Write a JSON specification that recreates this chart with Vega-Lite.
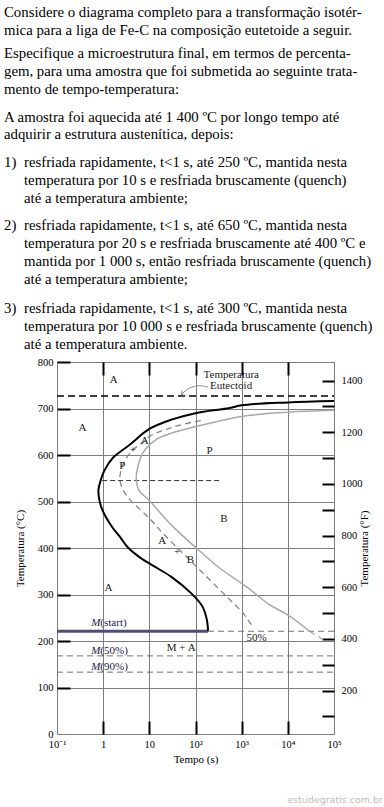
{
  "$schema": "https://vega.github.io/schema/vega-lite/v6.json",
  "width": 277,
  "height": 372,
  "autosize": "none",
  "padding": {"left": 57, "top": 362, "right": 50, "bottom": 73},
  "background": "white",
  "config": {
    "view": {"stroke": "#7d7d7d", "strokeWidth": 1},
    "axis": {
      "labelFont": "Liberation Serif", "titleFont": "Liberation Serif",
      "labelFontSize": 10.5, "titleFontSize": 11, "titleFontWeight": "normal",
      "labelColor": "#000", "titleColor": "#000", "domain": false,
      "tickWidth": 2, "gridColor": "#7d7d7d", "gridWidth": 1, "gridOpacity": 1,
      "labelOverlap": false, "labelFlush": false
    }
  },
  "resolve": {"scale": {"x": "independent", "y": "independent"}},
  "layer": [
    {
      "layer": [
        {
          "data": {"values": [
            {"col": 0, "line": 0, "text": "Considere o diagrama completo para a transformação isotér-"},
            {"col": 0, "line": 1, "text": "mica para a liga de Fe-C na composição eutetoide a seguir."},
            {"col": 0, "line": 2.34, "text": "Especifique a microestrutura final, em termos de percenta-"},
            {"col": 0, "line": 3.33, "text": "gem, para uma amostra que foi submetida ao seguinte trata-"},
            {"col": 0, "line": 4.34, "text": "mento de tempo-temperatura:"},
            {"col": 0, "line": 5.9, "text": "A amostra foi aquecida até 1 400 ºC por longo tempo até"},
            {"col": 0, "line": 6.89, "text": "adquirir a estrutura austenítica, depois:"},
            {"col": 0, "line": 8.43, "text": "1)"},
            {"col": 1, "line": 8.43, "text": "resfriada rapidamente, t<1 s, até 250 ºC, mantida nesta"},
            {"col": 1, "line": 9.43, "text": "temperatura por 10 s e resfriada bruscamente (quench)"},
            {"col": 1, "line": 10.45, "text": "até a temperatura ambiente;"},
            {"col": 0, "line": 11.98, "text": "2)"},
            {"col": 1, "line": 11.98, "text": "resfriada rapidamente, t<1 s, até 650 ºC, mantida nesta"},
            {"col": 1, "line": 13.01, "text": "temperatura por 20 s e resfriada bruscamente até 400 ºC e"},
            {"col": 1, "line": 14.0, "text": "mantida por 1 000 s, então resfriada bruscamente (quench)"},
            {"col": 1, "line": 15.01, "text": "até a temperatura ambiente;"},
            {"col": 0, "line": 16.65, "text": "3)"},
            {"col": 1, "line": 16.65, "text": "resfriada rapidamente, t<1 s, até 300 ºC, mantida nesta"},
            {"col": 1, "line": 17.66, "text": "temperatura por 10 000 s e resfriada bruscamente (quench)"},
            {"col": 1, "line": 18.67, "text": "até a temperatura ambiente."}
          ]},
          "mark": {"type": "text", "align": "left", "baseline": "alphabetic", "font": "Liberation Serif", "fontSize": 14.8, "color": "#000"},
          "encoding": {
            "x": {"field": "col", "type": "quantitative", "scale": {"domain": [0, 1, 2], "range": [-53, -33, 326], "nice": false, "zero": false}, "axis": null},
            "y": {"field": "line", "type": "quantitative", "scale": {"domain": [0, 45], "range": [-345.3, 455.7], "nice": false, "zero": false}, "axis": null},
            "text": {"field": "text"}
          }
        },
        {
          "data": {"values": [{"col": 2, "line": 44.17, "text": "estudegratis.com.br"}]},
          "mark": {"type": "text", "align": "right", "baseline": "alphabetic", "font": "DejaVu Sans", "fontSize": 9.5, "color": "#bbbbbb"},
          "encoding": {
            "x": {"field": "col", "type": "quantitative", "scale": {"domain": [0, 1, 2], "range": [-53, -33, 326], "nice": false, "zero": false}, "axis": null},
            "y": {"field": "line", "type": "quantitative", "scale": {"domain": [0, 45], "range": [-345.3, 455.7], "nice": false, "zero": false}, "axis": null},
            "text": {"field": "text"}
          }
        }
      ]
    },
    {
      "layer": [
        {
          "data": {"values": [{"name": "eutectoid", "t": 0.1, "t2": 100000, "T": 727}]},
          "mark": {"type": "rule", "color": "#000", "strokeWidth": 1.5, "strokeDash": [7, 4]},
          "encoding": {
            "x": {"field": "t", "type": "quantitative",
              "scale": {"type": "log", "domain": [0.1, 100000], "nice": false},
              "axis": {"orient": "bottom", "values": [0.1, 1, 10, 100, 1000, 10000, 100000], "grid": true,
                "labelExpr": "datum.value < 0.5 ? '10⁻¹' : datum.value < 5 ? '1' : datum.value < 50 ? '10' : datum.value < 500 ? '10²' : datum.value < 5000 ? '10³' : datum.value < 50000 ? '10⁴' : '10⁵'",
                "tickSize": -13, "labelPadding": 18, "title": "Tempo (s)", "titlePadding": 4,
                "tickColor": {"condition": {"test": "datum.value < 0.5 || datum.value > 50000", "value": "transparent"}, "value": "#000"}}},
            "x2": {"field": "t2"},
            "y": {"field": "T", "type": "quantitative",
              "scale": {"domain": [0, 800], "nice": false, "zero": false},
              "axis": {"orient": "left", "values": [0, 100, 200, 300, 400, 500, 600, 700, 800], "format": "d", "grid": true,
                "tickSize": -13, "labelPadding": 17, "title": "Temperatura (°C)", "titlePadding": 12,
                "tickColor": {"condition": {"test": "datum.value == 0", "value": "transparent"}, "value": "#000"}}}
          }
        },
        {
          "data": {"values": [
            {"name": "M(50%)", "t": 0.1, "t2": 100000, "T": 168},
            {"name": "M(90%)", "t": 0.1, "t2": 100000, "T": 133},
            {"name": "M(start) extension", "t": 187, "t2": 100000, "T": 221}
          ]},
          "mark": {"type": "rule", "color": "#707070", "strokeWidth": 1, "strokeDash": [6, 4]},
          "encoding": {"x": {"field": "t", "type": "quantitative"}, "x2": {"field": "t2"}, "y": {"field": "T", "type": "quantitative"}}
        },
        {
          "data": {"values": [{"name": "nose", "t": 0.95, "t2": 330, "T": 545}]},
          "mark": {"type": "rule", "color": "#333", "strokeWidth": 1, "strokeDash": [5, 3]},
          "encoding": {"x": {"field": "t", "type": "quantitative"}, "x2": {"field": "t2"}, "y": {"field": "T", "type": "quantitative"}}
        },
        {
          "data": {"values": [{"name": "M(start)", "t": 0.1, "t2": 187, "T": 221}]},
          "mark": {"type": "rule", "color": "#4d4d78", "strokeWidth": 3},
          "encoding": {"x": {"field": "t", "type": "quantitative"}, "x2": {"field": "t2"}, "y": {"field": "T", "type": "quantitative"}}
        },
        {
          "data": {"values": [
            {"o": 1, "t": 100000, "T": 696}, {"o": 2, "t": 10000, "T": 692}, {"o": 3, "t": 1000, "T": 683},
            {"o": 4, "t": 100, "T": 661}, {"o": 5, "t": 30, "T": 647}, {"o": 6, "t": 14, "T": 633},
            {"o": 7, "t": 7.2, "T": 604}, {"o": 8, "t": 5.66, "T": 575}, {"o": 9, "t": 5.2, "T": 550},
            {"o": 10, "t": 5.9, "T": 525}, {"o": 11, "t": 10, "T": 502}, {"o": 12, "t": 32.6, "T": 446},
            {"o": 13, "t": 104, "T": 400}, {"o": 14, "t": 331, "T": 357}, {"o": 15, "t": 1256, "T": 317},
            {"o": 16, "t": 4000, "T": 278}, {"o": 17, "t": 10000, "T": 256}, {"o": 18, "t": 29500, "T": 221}
          ]},
          "mark": {"type": "line", "color": "#a8a8a8", "strokeWidth": 1.5, "interpolate": "catmull-rom"},
          "encoding": {"x": {"field": "t", "type": "quantitative"}, "y": {"field": "T", "type": "quantitative"}, "order": {"field": "o"}}
        },
        {
          "data": {"values": [{"o": 1, "t": 29500, "T": 221}, {"o": 2, "t": 65000, "T": 200}]},
          "mark": {"type": "line", "color": "#a8a8a8", "strokeWidth": 1.3, "strokeDash": [6, 4]},
          "encoding": {"x": {"field": "t", "type": "quantitative"}, "y": {"field": "T", "type": "quantitative"}, "order": {"field": "o"}}
        },
        {
          "data": {"values": [
            {"o": 1, "t": 130, "T": 674}, {"o": 2, "t": 100, "T": 672}, {"o": 3, "t": 30, "T": 659},
            {"o": 4, "t": 10, "T": 640}, {"o": 5, "t": 7.9, "T": 630}, {"o": 6, "t": 4.4, "T": 611},
            {"o": 7, "t": 3.2, "T": 594}, {"o": 8, "t": 2.6, "T": 577}, {"o": 9, "t": 2.35, "T": 560},
            {"o": 10, "t": 2.3, "T": 547}, {"o": 11, "t": 2.7, "T": 525}, {"o": 12, "t": 3.8, "T": 504},
            {"o": 13, "t": 10, "T": 464}, {"o": 14, "t": 19.5, "T": 432}, {"o": 15, "t": 53, "T": 389},
            {"o": 16, "t": 145, "T": 346}, {"o": 17, "t": 467, "T": 296}, {"o": 18, "t": 1070, "T": 260},
            {"o": 19, "t": 1630, "T": 235}, {"o": 20, "t": 1900, "T": 228}
          ]},
          "mark": {"type": "line", "color": "#858585", "strokeWidth": 1.3, "strokeDash": [6, 4], "interpolate": "catmull-rom"},
          "encoding": {"x": {"field": "t", "type": "quantitative"}, "y": {"field": "T", "type": "quantitative"}, "order": {"field": "o"}}
        },
        {
          "data": {"values": [
            {"o": 1, "t": 100000, "T": 716}, {"o": 2, "t": 10000, "T": 713}, {"o": 3, "t": 1000, "T": 707},
            {"o": 4, "t": 550, "T": 701}, {"o": 5, "t": 100, "T": 690}, {"o": 6, "t": 30, "T": 676},
            {"o": 7, "t": 10, "T": 656}, {"o": 8, "t": 3.75, "T": 622}, {"o": 9, "t": 1.63, "T": 594},
            {"o": 10, "t": 1.08, "T": 568}, {"o": 11, "t": 0.88, "T": 545}, {"o": 12, "t": 0.79, "T": 525},
            {"o": 13, "t": 0.82, "T": 505}, {"o": 14, "t": 0.91, "T": 488}, {"o": 15, "t": 1.15, "T": 466},
            {"o": 16, "t": 1.62, "T": 443}, {"o": 17, "t": 2.27, "T": 425}, {"o": 18, "t": 3.44, "T": 401},
            {"o": 19, "t": 6.0, "T": 381}, {"o": 20, "t": 12, "T": 362}, {"o": 21, "t": 30, "T": 338},
            {"o": 22, "t": 80, "T": 303}, {"o": 23, "t": 140, "T": 275}, {"o": 24, "t": 175, "T": 247},
            {"o": 25, "t": 187, "T": 222}
          ]},
          "mark": {"type": "line", "color": "#000", "strokeWidth": 2, "interpolate": "catmull-rom"},
          "encoding": {"x": {"field": "t", "type": "quantitative"}, "y": {"field": "T", "type": "quantitative"}, "order": {"field": "o"}}
        },
        {
          "data": {"values": [
            {"seg": "arc", "o": 1, "t": 185, "T": 746}, {"seg": "arc", "o": 2, "t": 123, "T": 749},
            {"seg": "arc", "o": 3, "t": 74.5, "T": 744}, {"seg": "arc", "o": 4, "t": 53, "T": 733},
            {"seg": "arc", "o": 5, "t": 50, "T": 730},
            {"seg": "h1", "o": 1, "t": 50.8, "T": 739}, {"seg": "h1", "o": 2, "t": 50, "T": 730},
            {"seg": "h2", "o": 1, "t": 61, "T": 728}, {"seg": "h2", "o": 2, "t": 50, "T": 730}
          ]},
          "mark": {"type": "line", "color": "#8a8a8a", "strokeWidth": 1, "interpolate": "catmull-rom"},
          "encoding": {"x": {"field": "t", "type": "quantitative"}, "y": {"field": "T", "type": "quantitative"}, "detail": {"field": "seg"}, "order": {"field": "o"}}
        },
        {
          "data": {"values": [
            {"t": 1.7, "T": 762, "label": "A"}, {"t": 0.355, "T": 657, "label": "A"},
            {"t": 202, "T": 609, "label": "P"}, {"t": 412, "T": 463, "label": "B"},
            {"t": 1.3, "T": 314, "label": "A"}, {"t": 49, "T": 186, "label": "M + A"},
            {"t": 7.9, "T": 630, "label": "A"}, {"t": 4.4, "T": 611, "label": "+"}, {"t": 2.6, "T": 577, "label": "P"},
            {"t": 19, "T": 414, "label": "A"}, {"t": 40, "T": 391, "label": "+"}, {"t": 78, "T": 375, "label": "B"},
            {"t": 2100, "T": 207, "label": "50%"},
            {"t": 596, "T": 773, "label": "Temperatura"}, {"t": 590, "T": 748, "label": "Eutectoid"}
          ]},
          "mark": {"type": "text", "font": "Liberation Serif", "fontSize": 11, "color": "#1a1a1a", "align": "center", "baseline": "middle"},
          "encoding": {"x": {"field": "t", "type": "quantitative"}, "y": {"field": "T", "type": "quantitative"}, "text": {"field": "label"}}
        },
        {
          "data": {"values": [
            {"t": 0.87, "T": 239, "label": "M"}, {"t": 0.87, "T": 179, "label": "M"}, {"t": 0.87, "T": 144, "label": "M"}
          ]},
          "mark": {"type": "text", "font": "Liberation Serif", "fontSize": 11, "fontStyle": "italic", "color": "#22224a", "align": "right", "baseline": "middle"},
          "encoding": {"x": {"field": "t", "type": "quantitative"}, "y": {"field": "T", "type": "quantitative"}, "text": {"field": "label"}}
        },
        {
          "data": {"values": [
            {"t": 0.87, "T": 239, "label": "(start)"}, {"t": 0.87, "T": 179, "label": "(50%)"}, {"t": 0.87, "T": 144, "label": "(90%)"}
          ]},
          "mark": {"type": "text", "font": "Liberation Serif", "fontSize": 11, "color": "#22224a", "align": "left", "baseline": "middle"},
          "encoding": {"x": {"field": "t", "type": "quantitative"}, "y": {"field": "T", "type": "quantitative"}, "text": {"field": "label"}}
        }
      ]
    },
    {
      "data": {"values": [{"t": 1, "F": 32}, {"t": 1, "F": 1472}]},
      "mark": {"type": "point", "opacity": 0},
      "encoding": {
        "x": {"field": "t", "type": "quantitative",
          "scale": {"type": "log", "domain": [0.1, 100000], "nice": false},
          "axis": {"orient": "top", "values": [1, 10, 100, 1000, 10000], "labels": false, "tickSize": -13, "grid": false, "title": null, "tickColor": "#000"}},
        "y": {"field": "F", "type": "quantitative",
          "scale": {"domain": [32, 1472], "nice": false, "zero": false},
          "axis": {"orient": "right", "values": [100, 200, 300, 400, 500, 600, 700, 800, 900, 1000, 1100, 1200, 1300, 1400], "format": "d",
            "labelExpr": "datum.value % 200 == 0 ? datum.label : ''", "tickSize": -12, "labelPadding": 19, "grid": false,
            "title": "Temperatura (°F)", "titleAngle": 270, "titlePadding": 7, "tickColor": "#000"}}
      }
    }
  ]
}
